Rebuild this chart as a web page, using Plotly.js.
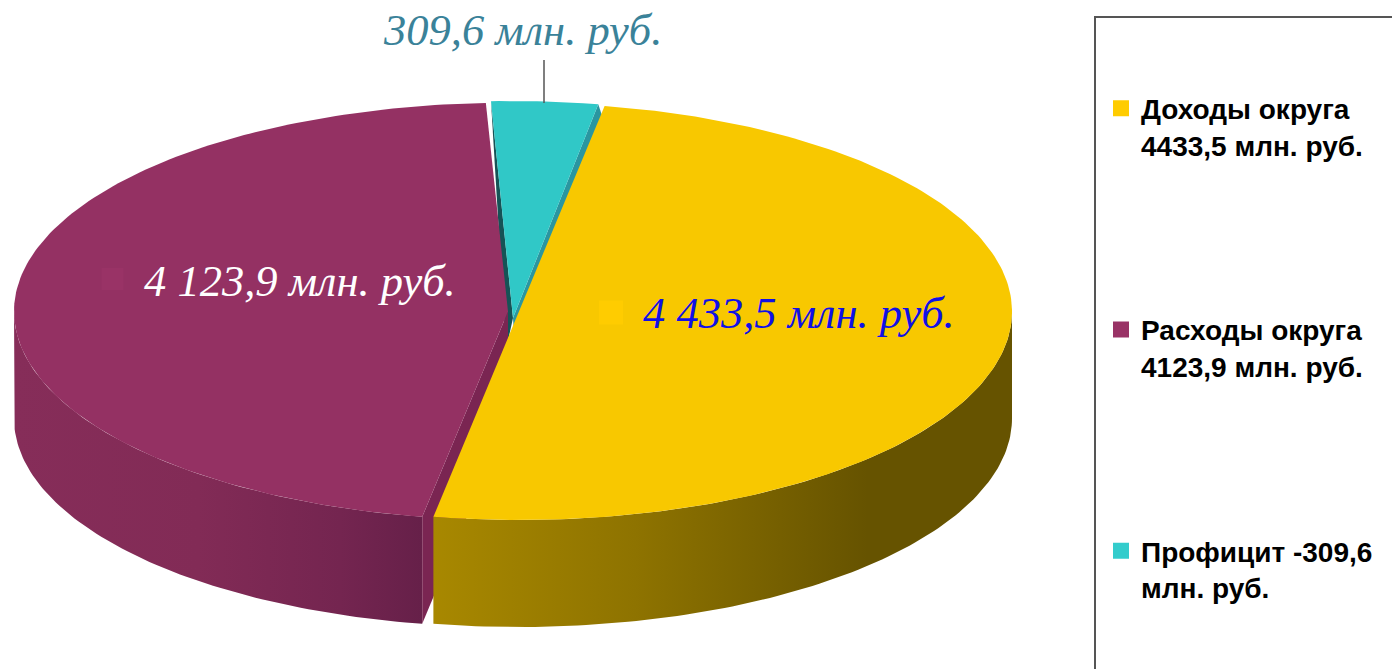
<!DOCTYPE html>
<html><head><meta charset="utf-8">
<script src="https://cdn.plot.ly/plotly-3.0.1.min.js"></script>
<style>html,body{margin:0;padding:0;background:#fff;overflow:hidden}#c{width:1392px;height:669px}</style>
</head><body><div id="c"></div>
<script>
// ---- data ----
const categories = ['Доходы округа', 'Расходы округа', 'Профицит'];
const values = [4433.5, 4123.9, 309.6];
const legendLabels = ['Доходы округа<br>4433,5 млн. руб.', 'Расходы округа<br>4123,9 млн. руб.', 'Профицит -309,6<br>млн. руб.'];
const sliceLabels = ['4 433,5 млн. руб.', '4 123,9 млн. руб.', '309,6 млн. руб.'];
const keyColors = ['#FFCC00', '#993366', '#33CCCC'];
const faceColors = ['#F8C800', '#943163', '#30C8C7'];

// ---- projection of the tilted pie on a pixel-scaled plot ----
const START = 10, DEPTH = 107, RY = 208.6, CY = 311.4;
const discs = [{cx: 519, cy: CY, rx: 493, ry: RY}, {cx: 508, cy: CY, rx: 494, ry: RY}, {cx: 513, cy: 310, rx: 491, ry: 209}];
const total = values.reduce((a, b) => a + b, 0);
let run = START;
const spans = values.map(v => { const a = run; run += v / total * 360; return [a, run]; });
function rim(d, deg) { const t = deg * Math.PI / 180; return [d.cx + d.rx * Math.sin(t), d.cy - d.ry * Math.cos(t)]; }
function arc(d, a, b) { const p = [], n = Math.ceil(Math.abs(b - a)) + 1; for (let i = 0; i <= n; i++) p.push(rim(d, a + (b - a) * i / n)); return p; }
function poly(pts, color, extra) {
  return Object.assign({type: 'scatter', mode: 'lines', x: pts.map(p => p[0]), y: pts.map(p => p[1]), fill: 'toself',
    fillcolor: color, line: {width: 0, color: color}, hoverinfo: 'skip', showlegend: false}, extra || {});
}
function band(d, a, b, color, scale) {
  const top = arc(d, a, b), low = top.slice().reverse().map(p => [p[0], p[1] + DEPTH]);
  return poly(top.concat(low, [top[0]]), color, {fillgradient: {type: 'horizontal', colorscale: scale}});
}
const [yS, pS, cS] = spans;
const yD = discs[0], pD = discs[1], cD = discs[2];
const cApex = [cD.cx, cD.cy + 8];
const pEnd = rim(pD, pS[0]);
const cR = rim(cD, cS[1]);
const traces = [
  band(pD, pS[0], 270, '#7f2853', [[0, '#862D59'], [0.45, '#822B56'], [0.8, '#742550'], [1, '#662049']]),
  poly([[cApex[0], cApex[1]], rim(cD, cS[0]), [cApex[0] - 7, cApex[1] + 32]], '#155356'),
  poly([[cApex[0], cApex[1]], cR, [cR[0] + 4, cR[1] + 12], [cApex[0] + 2, cApex[1] + 32]], '#2A96A0'),
  poly([cApex].concat(arc(cD, cS[0], cS[1]), [cApex]), faceColors[2]),
  poly([[pD.cx, pD.cy], pEnd, [pEnd[0], pEnd[1] + DEPTH], [pD.cx, pD.cy + DEPTH]], '#7A2552'),
  poly([[pD.cx, pD.cy]].concat(arc(pD, pS[0], pS[1]), [[pD.cx, pD.cy]]), faceColors[1]),
  band(yD, 90, yS[1], '#8a7000', [[0, '#A88800'], [0.35, '#8E7300'], [0.75, '#665300'], [1, '#665300']]),
  poly(arc(yD, yS[0], yS[1]).concat([rim(yD, yS[0])]), faceColors[0])
];
// legend keys: the first two also sit beside their slice label, as in the picture
const keyX = [611, 112.5, null], keyY = [312.5, 279, null], keySize = [24, 22, 24];
categories.forEach((c, i) => traces.push({type: 'scatter', mode: 'markers', x: [keyX[i]], y: [keyY[i]], name: legendLabels[i],
  legendgroup: c, marker: {symbol: 'square', size: keySize[i], color: keyColors[i]}, hoverinfo: 'skip'}));

const labelFont = c => ({family: '"Liberation Serif", serif', size: 44.5, color: c, style: 'italic'});
const layout = {
  width: 1392, height: 669, margin: {l: 0, r: 0, t: 0, b: 0}, paper_bgcolor: '#fff', plot_bgcolor: '#fff',
  xaxis: {range: [0, 1392], visible: false, fixedrange: true},
  yaxis: {range: [669, 0], visible: false, fixedrange: true},
  hovermode: false,
  legend: {x: 1101 / 1392, y: 1 - 83.5 / 669, xanchor: 'left', yanchor: 'top', bgcolor: 'rgba(0,0,0,0)', borderwidth: 0,
    font: {family: '"Liberation Sans", Arial, sans-serif', size: 28, color: '#000', weight: 700},
    tracegroupgap: 145.5, itemwidth: 30, traceorder: 'grouped', valign: 'top'},
  shapes: [
    {type: 'rect', xref: 'x', yref: 'y', x0: 1095, x1: 1500, y0: 17, y1: 800, line: {color: '#555', width: 2}, fillcolor: 'rgba(0,0,0,0)'},
    {type: 'line', xref: 'x', yref: 'y', x0: 544, x1: 544, y0: 60, y1: 103, line: {color: '#555', width: 1.5}}
  ],
  annotations: [
    {x: 799, y: 313, text: sliceLabels[0], font: labelFont('#1010E6')},
    {x: 300, y: 281, text: sliceLabels[1], font: labelFont('#FFFFFF')},
    {x: 522, y: 30, text: sliceLabels[2], font: labelFont('#3A8299')}
  ].map(a => Object.assign({xref: 'x', yref: 'y', showarrow: false, xanchor: 'center', yanchor: 'middle'}, a))
};
Plotly.newPlot('c', traces, layout, {displayModeBar: false, staticPlot: true});
</script></body></html>
